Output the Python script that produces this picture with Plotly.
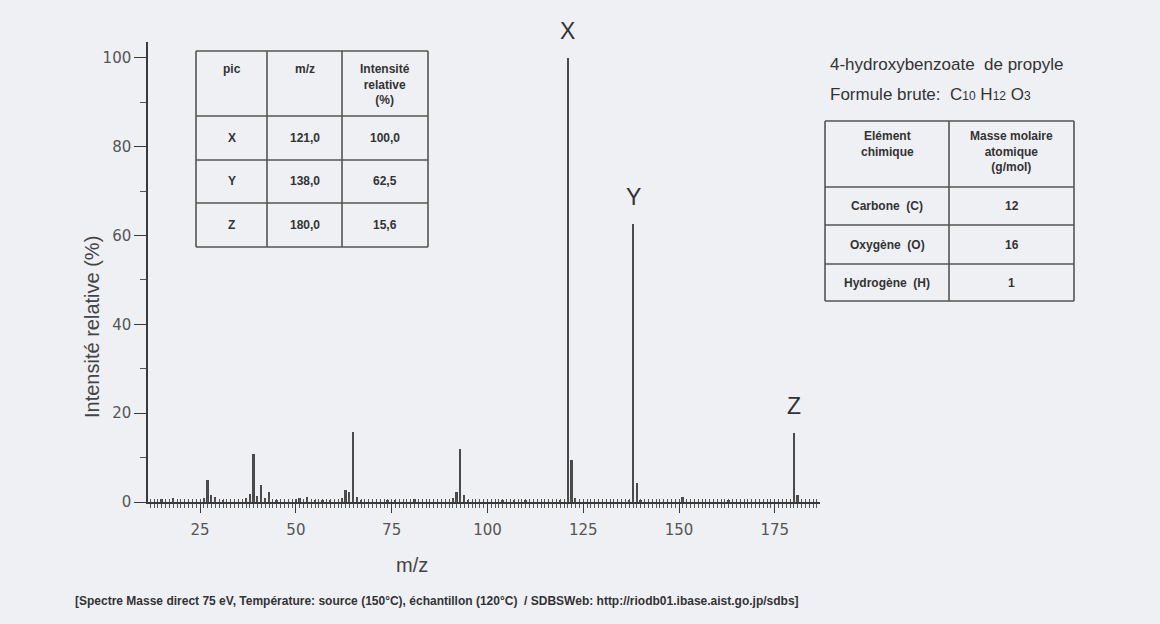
import plotly.graph_objects as go

# ---------------- data ----------------
mz = [15, 18, 26, 27, 28, 29, 31, 37, 38, 39, 40, 41, 42, 43, 45, 50, 51, 53, 55, 57,
      59, 62, 63, 64, 65, 66, 67, 74, 76, 81, 91, 92, 93, 94, 95, 104, 107, 110, 119,
      121, 122, 123, 137, 138, 139, 140, 151, 163, 180, 181]
intensity = [0.6, 0.8, 0.8, 5.0, 1.6, 1.2, 0.5, 0.8, 1.7, 10.7, 1.3, 3.8, 0.9, 2.3, 0.4,
             0.6, 0.8, 1.1, 0.5, 0.4, 0.5, 1.0, 2.6, 2.3, 15.7, 1.1, 0.4, 0.3, 0.4, 0.6,
             0.8, 2.3, 11.9, 1.5, 0.4, 0.4, 0.3, 0.3, 0.4, 100.0, 9.5, 0.8, 0.5, 62.5,
             4.2, 0.5, 1.2, 0.3, 15.6, 1.5]

peak_names = ["X", "Y", "Z"]
peak_mz = [121.0, 138.0, 180.0]
peak_int = [100.0, 62.5, 15.6]

x_ticks = [25, 50, 75, 100, 125, 150, 175]
y_ticks = [0, 20, 40, 60, 80, 100]

table1_header = ["pic", "m/z", "Intensité<br>relative<br>(%)"]
table1_rows = [["X", "121,0", "100,0"], ["Y", "138,0", "62,5"], ["Z", "180,0", "15,6"]]

table2_header = ["Elément<br>chimique", "Masse molaire<br>atomique<br>(g/mol)"]
table2_rows = [["Carbone  (C)", "12"], ["Oxygène  (O)", "16"], ["Hydrogène  (H)", "1"]]

compound = "4-hydroxybenzoate  de propyle"
footer = ("[Spectre Masse direct 75 eV, Température: source (150°C), échantillon (120°C)  "
          "/ SDBSWeb: http://riodb01.ibase.aist.go.jp/sdbs]")

# ---------------- layout helpers ----------------
W, H = 1160, 624
BG = "#eff0f3"
INK = "#3a3a3a"


def px(x):
    return x / W


def py(y):
    return 1 - y / H


fig = go.Figure()

fig.add_trace(go.Bar(x=mz, y=intensity, width=0.45, marker=dict(color="#4a4a4a", line=dict(width=0)),
                     showlegend=False, hoverinfo="x+y"))

# invisible trace on overlay axis so it renders
fig.add_trace(go.Scatter(x=[mz[0]], y=[0], xaxis="x2", mode="markers",
                         marker=dict(opacity=0), showlegend=False, hoverinfo="skip"))

xr = [11.4, 186.8]
fig.update_layout(
    width=W, height=H, autosize=False,
    margin=dict(l=0, r=0, t=0, b=0, pad=0, autoexpand=False),
    paper_bgcolor=BG, plot_bgcolor=BG,
    bargap=0,
    xaxis=dict(domain=[px(148), px(820)], range=xr, showgrid=False, zeroline=False, automargin=False,
               showline=True, linecolor=INK, linewidth=1.5,
               tickmode="array", tickvals=x_ticks, ticks="outside", ticklen=9, tickwidth=1.3,
               tickcolor=INK,
               minor=dict(dtick=1, tick0=0, ticks="outside", ticklen=4, tickwidth=1, tickcolor="#555"),
               tickfont=dict(family="DejaVu Sans", size=15, color="#555"), ticklabelstandoff=4),
    xaxis2=dict(domain=[px(148), px(820)], range=xr, overlaying="x", anchor="y", automargin=False,
                showgrid=False, zeroline=False, showline=False, showticklabels=False,
                ticks="inside", dtick=1, tick0=0, ticklen=3, tickwidth=1, tickcolor="#555"),
    yaxis=dict(domain=[py(502), py(42)], range=[0, 103.6], showgrid=False, zeroline=False,
               automargin=False, showline=True, linecolor=INK, linewidth=1.5,
               tickmode="array", tickvals=y_ticks, ticks="outside", ticklen=12, tickwidth=1.3,
               tickcolor=INK,
               minor=dict(dtick=10, tick0=10, ticks="outside", ticklen=6, tickwidth=1, tickcolor="#555"),
               tickfont=dict(family="DejaVu Sans", size=15, color="#555")),
)

ann = []
# peak labels
for n, m, v in zip(peak_names, peak_mz, peak_int):
    ann.append(dict(x=m, y=v, xref="x", yref="y", text=n, showarrow=False, xanchor="center",
                    yanchor="bottom", yshift=12,
                    font=dict(family="Liberation Sans", size=23, color="#333")))

# axis titles
ann.append(dict(x=px(92), y=py(327), xref="paper", yref="paper", text="Intensité relative (%)",
                textangle=-90, showarrow=False, xanchor="center", yanchor="middle",
                font=dict(family="Liberation Sans", size=20, color="#444")))
ann.append(dict(x=px(412), y=py(565), xref="paper", yref="paper", text="m/z",
                showarrow=False, xanchor="center", yanchor="middle",
                font=dict(family="Liberation Sans", size=20, color="#444")))

# footer
ann.append(dict(x=px(73), y=py(601), xref="paper", yref="paper", text=footer, xanchor="left",
                yanchor="middle", showarrow=False,
                font=dict(family="Liberation Sans", size=12, weight="bold", color="#333")))

# compound info
ann.append(dict(x=px(828), y=py(65), xref="paper", yref="paper", text=compound, xanchor="left",
                yanchor="middle", showarrow=False,
                font=dict(family="Liberation Sans", size=17, color="#333")))
ann.append(dict(x=px(828), y=py(94), xref="paper", yref="paper", xanchor="left", yanchor="middle",
                showarrow=False,
                text=("Formule brute:  C<span style='font-size:12px'>10</span> "
                      "H<span style='font-size:12px'>12</span> O<span style='font-size:12px'>3</span>"),
                font=dict(family="Liberation Sans", size=17, color="#333")))

shapes = []


def draw_table(cols, rows, header, body, header_top_pad, size):
    for x in cols:
        shapes.append(dict(type="line", xref="paper", yref="paper", x0=px(x), x1=px(x),
                           y0=py(rows[0]), y1=py(rows[-1]), line=dict(color="#555", width=1.6)))
    for y in rows:
        shapes.append(dict(type="line", xref="paper", yref="paper", x0=px(cols[0]), x1=px(cols[-1]),
                           y0=py(y), y1=py(y), line=dict(color="#555", width=1.6)))
    for j, h in enumerate(header):
        cx = (cols[j] + cols[j + 1]) / 2
        ann.append(dict(x=px(cx), y=py(rows[0] + header_top_pad), xref="paper", yref="paper",
                        text=h, showarrow=False, xanchor="center", yanchor="top", align="center",
                        font=dict(family="Liberation Sans", size=size, weight="bold", color="#333")))
    for i, r in enumerate(body):
        cy = (rows[i + 1] + rows[i + 2]) / 2
        for j, t in enumerate(r):
            cx = (cols[j] + cols[j + 1]) / 2
            ann.append(dict(x=px(cx), y=py(cy), xref="paper", yref="paper", text=t,
                            showarrow=False, xanchor="center", yanchor="middle",
                            font=dict(family="Liberation Sans", size=size, weight="bold", color="#333")))


draw_table([196, 267, 342, 428], [51, 116, 160, 203, 247], table1_header, table1_rows, 9, 12)
draw_table([825, 949, 1074], [121, 187, 225, 264, 301], table2_header, table2_rows, 6, 12)

fig.update_layout(annotations=ann, shapes=shapes)

fig.write_html("out.html", config={"displayModeBar": False},
               post_script="document.body.style.margin='0';document.body.style.background='%s';" % BG)
